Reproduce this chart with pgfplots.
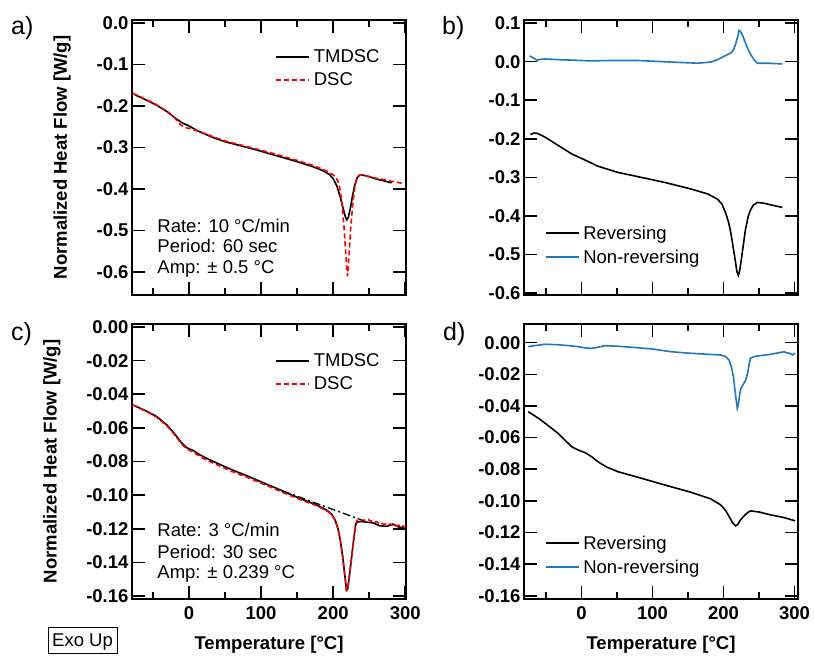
\documentclass[border=0pt]{standalone}
\usepackage{fontspec}
\setmainfont{Liberation Sans}
\usepackage{pgfplots}
\pgfplotsset{compat=1.18}
\definecolor{nrblue}{RGB}{31,119,190}
\newcommand{\fsz}{\fontsize{18.5}{21}\selectfont}
\pgfplotsset{
  base/.style={
    scale only axis, width=274pt, height=275pt,
    major tick length=13pt, minor tick length=7pt,
    tick style={black, line width=1.6pt},
    xtick={0,100,200,300}, minor xtick={-50,50,150,250},
    xticklabels={0,100,200,300},
    xticklabel style={yshift=-4pt},
  },
  fonts/.style={
    tick label style={font=\fsz\bfseries},
    label style={font=\fsz\bfseries},
  },
  extras/.style={
    axis line style={line width=1.8pt},
    legend image code/.code={\draw[##1] (0pt,0pt) -- (33pt,0pt);},
    every axis plot/.append style={line width=1.6pt},
  },
  leg/.style={
    legend style={font=\fsz, draw=none, fill=none, inner sep=0pt,
      row sep=1pt, nodes={inner sep=4pt}},
    legend cell align=left,
  },
  ylab/.style={ylabel={Normalized Heat Flow [W/g]},
    ylabel style={at={(axis description cs:#1,0.5)}, anchor=center, rotate=0}},
  xlab/.style={xlabel={Temperature [°C]},
    xlabel style={at={(axis description cs:0.5,-0.167)}, anchor=center}},
}
\begin{document}
\begin{tikzpicture}
\path (0pt,0pt) rectangle (814pt,-654pt);

% ---------- a ----------
\begin{axis}[base, fonts, extras, leg, at={(132pt,-20pt)}, anchor=north west,
  xmin=-79, xmax=301, ymin=-0.655, ymax=0.007,
  ytick={0,-0.1,-0.2,-0.3,-0.4,-0.5,-0.6},
  yticklabels={0.0,-0.1,-0.2,-0.3,-0.4,-0.5,-0.6},
  xticklabels={}, ylab=-0.255,
  legend style={at={(axis description cs:0.522,0.908)}, anchor=north west}]
\addplot[black, line width=1.6pt] coordinates {(-75,-0.173) (-60,-0.185) (-45,-0.198) (-30,-0.214) (-20,-0.228) (-10,-0.240) (0,-0.248) (10,-0.258) (20,-0.266) (35,-0.277) (50,-0.286) (70,-0.295) (90,-0.304) (110,-0.314) (130,-0.324) (150,-0.334) (170,-0.345) (185,-0.355) (195,-0.365) (200,-0.375) (205,-0.392) (210,-0.420) (214,-0.448) (217,-0.467) (219,-0.474) (221,-0.468) (224,-0.445) (227,-0.415) (230,-0.390) (233,-0.374) (236,-0.367) (240,-0.366) (250,-0.370) (260,-0.376) (270,-0.380) (281,-0.385)};
\addlegendentry{TMDSC}
\addplot[red, line width=1.6pt, dash pattern=on 5pt off 3pt] coordinates {(-78,-0.169) (-60,-0.184) (-45,-0.197) (-30,-0.213) (-20,-0.228) (-12,-0.245) (-5,-0.252) (5,-0.256) (20,-0.265) (35,-0.275) (50,-0.284) (70,-0.293) (90,-0.302) (110,-0.311) (130,-0.321) (150,-0.331) (170,-0.342) (185,-0.352) (195,-0.360) (203,-0.370) (208,-0.385) (212,-0.430) (215,-0.490) (218,-0.570) (220,-0.610) (222,-0.560) (224,-0.500) (227,-0.440) (230,-0.395) (233,-0.372) (237,-0.366) (245,-0.368) (260,-0.374) (275,-0.379) (290,-0.384) (298,-0.387)};
\addlegendentry{DSC}
\node[font=\fsz, anchor=base west] at (axis description cs:0.080,0.229) {Rate: 10 °C/min};
\node[font=\fsz, anchor=base west] at (axis description cs:0.080,0.153) {Period: 60 sec};
\node[font=\fsz, anchor=base west] at (axis description cs:0.080,0.080) {Amp: ± 0.5 °C};
\end{axis}

% ---------- b ----------
\begin{axis}[base, fonts, extras, leg, at={(524pt,-20pt)}, anchor=north west,
  xmin=-81, xmax=305, ymin=-0.605, ymax=0.108,
  ytick={0.1,0,-0.1,-0.2,-0.3,-0.4,-0.5,-0.6},
  yticklabels={0.1,0.0,-0.1,-0.2,-0.3,-0.4,-0.5,-0.6},
  xticklabels={},
  legend style={at={(axis description cs:0.075,0.267)}, anchor=north west}]
\addplot[black, line width=1.6pt] coordinates {(-72,-0.189) (-67,-0.185) (-62,-0.186) (-51,-0.196) (-33,-0.217) (-14,-0.239) (5,-0.255) (23,-0.271) (51,-0.287) (79,-0.298) (117,-0.313) (154,-0.330) (178,-0.343) (192,-0.357) (198,-0.370) (203,-0.392) (207,-0.415) (210,-0.440) (214,-0.485) (217,-0.520) (219,-0.545) (221,-0.554) (223,-0.540) (225,-0.515) (228,-0.475) (231,-0.435) (235,-0.400) (238,-0.385) (242,-0.372) (248,-0.365) (257,-0.367) (266,-0.371) (283,-0.378)};
\addlegendentry{Reversing}
\addplot[nrblue, line width=1.6pt] coordinates {(-73,0.015) (-68,0.010) (-63,0.004) (-58,0.006) (-51,0.007) (-30,0.005) (-14,0.004) (14,0.002) (40,0.003) (79,0.003) (126,-0.001) (164,-0.004) (182,-0.001) (190,0.004) (196,0.009) (204,0.017) (210,0.022) (214,0.030) (217,0.045) (220,0.065) (222,0.081) (224,0.078) (227,0.068) (231,0.048) (235,0.030) (238,0.020) (243,0.005) (248,-0.004) (262,-0.004) (283,-0.006)};
\addlegendentry{Non-reversing}
\end{axis}

% ---------- c ----------
\begin{axis}[base, fonts, extras, leg, at={(132pt,-324pt)}, anchor=north west,
  xmin=-79, xmax=301, ymin=-0.1618, ymax=0.0018,
  ytick={0,-0.02,-0.04,-0.06,-0.08,-0.10,-0.12,-0.14,-0.16},
  yticklabels={0.00,-0.02,-0.04,-0.06,-0.08,-0.10,-0.12,-0.14,-0.16},
  ylab=-0.292, xlab,
  legend style={at={(axis description cs:0.522,0.908)}, anchor=north west}]
\addplot[black, line width=1.6pt] coordinates {(-75,-0.0469) (-60,-0.0498) (-45,-0.0532) (-30,-0.0585) (-20,-0.0635) (-10,-0.0690) (-3,-0.0718) (6,-0.0735) (15,-0.0760) (25,-0.0782) (40,-0.0812) (60,-0.0850) (80,-0.0884) (100,-0.0921) (120,-0.0957) (140,-0.0995) (160,-0.1030) (175,-0.1055) (185,-0.1075) (192,-0.1092) (198,-0.1115) (203,-0.1150) (207,-0.1205) (210,-0.1270) (213,-0.1360) (216,-0.1470) (218.5,-0.1565) (220,-0.1560) (222,-0.1500) (225,-0.1390) (228,-0.1280) (231,-0.1180) (233,-0.1162) (237,-0.1157) (245,-0.1160) (255,-0.1165) (265,-0.1183) (275,-0.1185) (283,-0.1172) (290,-0.1188) (299,-0.1197)};
\addlegendentry{TMDSC}
\addplot[red, line width=1.6pt, dash pattern=on 5pt off 3pt] coordinates {(-78,-0.0463) (-60,-0.0500) (-45,-0.0536) (-30,-0.0590) (-20,-0.0640) (-10,-0.0697) (-3,-0.0726) (6,-0.0744) (15,-0.0770) (25,-0.0793) (40,-0.0822) (60,-0.0860) (80,-0.0893) (100,-0.0929) (120,-0.0965) (140,-0.1002) (160,-0.1036) (175,-0.1060) (185,-0.1080) (192,-0.1096) (198,-0.1118) (203,-0.1152) (207,-0.1207) (210,-0.1272) (213,-0.1362) (216,-0.1472) (218.5,-0.1568) (220,-0.1562) (222,-0.1502) (225,-0.1392) (228,-0.1282) (231,-0.1175) (233,-0.1150) (237,-0.1148) (240,-0.1155) (243,-0.1148) (246,-0.1152) (249,-0.1145) (252,-0.1156) (255,-0.1150) (258,-0.1160) (261,-0.1158) (264,-0.1170) (267,-0.1165) (270,-0.1175) (273,-0.1170) (276,-0.1178) (279,-0.1172) (282,-0.1180) (285,-0.1175) (288,-0.1185) (291,-0.1178) (294,-0.1190) (297,-0.1183) (300,-0.1195)};
\addlegendentry{DSC}
\addplot[black, line width=1.3pt, dash pattern=on 8pt off 3pt on 2pt off 3pt, forget plot] coordinates {(130,-0.0975) (242,-0.1152)};
\node[font=\fsz, anchor=base west] at (axis description cs:0.080,0.2255) {Rate: 3 °C/min};
\node[font=\fsz, anchor=base west] at (axis description cs:0.080,0.149) {Period: 30 sec};
\node[font=\fsz, anchor=base west] at (axis description cs:0.080,0.076) {Amp: ± 0.239 °C};
\end{axis}

% ---------- d ----------
\begin{axis}[base, fonts, extras, leg, at={(524pt,-324pt)}, anchor=north west,
  xmin=-81, xmax=305, ymin=-0.162, ymax=0.0118,
  ytick={0,-0.02,-0.04,-0.06,-0.08,-0.10,-0.12,-0.14,-0.16},
  yticklabels={0.00,-0.02,-0.04,-0.06,-0.08,-0.10,-0.12,-0.14,-0.16},
  xlab,
  legend style={at={(axis description cs:0.075,0.245)}, anchor=north west}]
\addplot[black, line width=1.6pt] coordinates {(-75,-0.0436) (-60,-0.0480) (-51,-0.0510) (-33,-0.0573) (-14,-0.0657) (-5,-0.0678) (5,-0.0695) (14,-0.0720) (23,-0.0752) (35,-0.0785) (51,-0.0815) (79,-0.0850) (117,-0.0899) (154,-0.0945) (182,-0.0987) (196,-0.1025) (203,-0.1060) (208,-0.1099) (213,-0.1140) (217,-0.1158) (220,-0.1150) (224,-0.1120) (229,-0.1095) (234,-0.1074) (238,-0.1063) (250,-0.1070) (266,-0.1088) (285,-0.1105) (301,-0.1126)};
\addlegendentry{Reversing}
\addplot[nrblue, line width=1.6pt] coordinates {(-75,-0.0025) (-65,-0.0018) (-51,-0.0010) (-33,-0.0013) (-15,-0.0020) (-5,-0.0025) (5,-0.0033) (14,-0.0036) (22,-0.0030) (33,-0.0019) (50,-0.0022) (79,-0.0032) (100,-0.0040) (126,-0.0057) (150,-0.0066) (173,-0.0072) (196,-0.0078) (203,-0.0088) (208,-0.0110) (211,-0.0150) (214,-0.0215) (217,-0.0330) (219.5,-0.0415) (221,-0.0390) (223,-0.0320) (225,-0.0285) (228,-0.0262) (231,-0.0240) (234,-0.0194) (236,-0.0140) (238,-0.0099) (243,-0.0088) (248,-0.0084) (266,-0.0074) (280,-0.0062) (285,-0.0057) (290,-0.0065) (294,-0.0068) (297,-0.0078) (299,-0.0070) (301,-0.0067)};
\addlegendentry{Non-reversing}
\end{axis}

% panel letters and Exo Up
\node[font=\fontsize{25}{27}\selectfont, anchor=base west, inner sep=0pt] at (11pt,-34pt) {a)};
\node[font=\fontsize{25}{27}\selectfont, anchor=base west, inner sep=0pt] at (442pt,-34pt) {b)};
\node[font=\fontsize{25}{27}\selectfont, anchor=base west, inner sep=0pt] at (11pt,-340pt) {c)};
\node[font=\fontsize{25}{27}\selectfont, anchor=base west, inner sep=0pt] at (443pt,-340pt) {d)};
\node[draw, line width=1pt, font=\fsz, minimum width=69pt, minimum height=26pt, inner sep=0pt, text height=13.3pt, text depth=0pt] at (82.5pt,-640pt) {Exo Up};
\end{tikzpicture}
\end{document}
